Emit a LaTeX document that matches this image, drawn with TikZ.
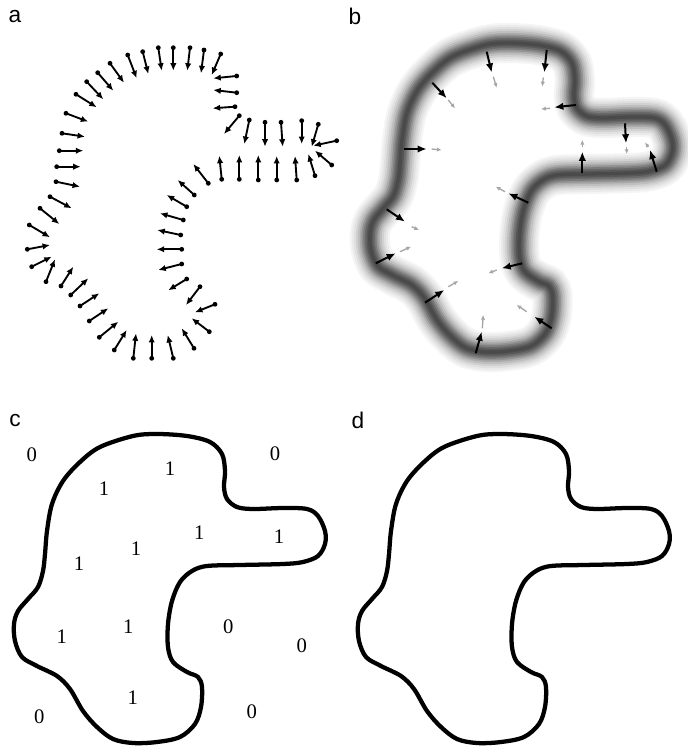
\documentclass[tikz,border=0pt]{standalone}
\usepackage{fontspec}
\setmainfont{Liberation Serif}
\newfontfamily\labfont{Liberation Sans}
\usetikzlibrary{arrows.meta}
\newcommand{\drawblob}[1]{\draw[#1] plot[smooth cycle, tension=0.55] coordinates {(157,60) (187,62) (210,68) (222,80) (225,97) (224,113) (227,125) (237,133) (253,135) (283,134) (307,135) (318,142) (325,157) (325,170) (318,182) (303,188) (283,190) (240,191) (207,192) (192,197) (180,208) (172,227) (168,250) (168,273) (173,288) (187,298) (198,303) (202,313) (201,333) (195,350) (180,363) (157,368) (133,369) (113,365) (97,353) (83,337) (70,315) (57,302) (37,292) (22,283) (15,267) (14,250) (18,237) (28,225) (38,213) (43,197) (45,180) (47,157) (52,130) (63,107) (80,88) (100,73) (133,62)};}
\begin{document}
\begin{tikzpicture}[x=0.75pt,y=-0.75pt,
  panellabel/.style={font=\labfont\fontsize{17}{20}\selectfont, inner sep=0pt},
  digit/.style={font=\fontsize{15.5}{18}\selectfont, inner sep=0pt},
  aarrow/.style={line width=1.4pt, -{Latex[length=5.6pt,width=4.8pt]}},
  barrow/.style={line width=1.5pt, -{Latex[length=6.8pt,width=5.6pt]}},
  garrow/.style={line width=1pt, black!35, -{Latex[length=3.5pt,width=3.2pt]}},
  contour/.style={line width=3.2pt, black}]
\useasboundingbox (0,0) rectangle (687,748);
\fill[white] (0,0) rectangle (687,748);

% panel labels
\node[panellabel] (la) at (15,17) {a};
\node[panellabel] (lb) at (355,16) {b};
\node[panellabel] (lc) at (15,421) {c};
\node[panellabel] (ld) at (358,420.5) {d};

% ---------- panel a ----------
\foreach \ax/\ay/\bx/\by in {
66/113.3/88.3/121.7, 76/94.3/96.7/107.3, 86.7/81.7/103.3/99.3, 97.7/72.7/113.3/90.7,
110/63.3/124/82.7, 127.7/55/136.7/78.3, 142.7/51.7/148.3/74, 158.3/47.7/161.7/70.7,
173.3/47.7/173.3/70.7, 190/47.7/187.3/70.7, 204/50/201/73.3, 220.7/54/211.7/75,
236.7/76/213.3/78.3, 236.7/92.7/213.3/90, 235/106.7/212.7/108.3, 239.3/115.7/224/134,
249.3/120/244.3/144, 265/122.3/265/146.7, 281/122.3/282.7/146.7, 301.7/120.7/301.7/144,
318.3/124.3/311.7/146.7, 336.7/140.7/313.3/145.7, 331.7/165/315/150.7, 315/175.7/308.3/154,
296.7/180/295/156, 276.7/180/276.7/156, 258.3/180/258.3/155, 239.3/179.3/239.3/155,
221.7/179.3/219.3/155.7, 208.3/183.3/193.3/164, 194.3/195/177.7/180, 186.7/206.7/166.7/195,
183.3/220/160/213.3, 180.7/235/157.3/230, 181.7/249.3/156.7/249.3, 181.7/264/158.3/270,
186.7/279/168.3/290.3, 200/286.7/186/305, 215/304.3/195/312.3, 209.3/331.7/191.7/318.3,
194/348.3/181.7/328.3, 173.3/358.3/167.7/335, 151.7/358.3/151.7/335, 133.3/358.3/136/333.3,
114.3/350/126.7/330, 99.3/337.3/118.3/321.7, 89.3/321/108.3/308.3, 80/306/99.3/293.3,
70.7/295/88.3/278.3, 61/286/73.3/266.7, 46/281.7/55/259.3, 31.7/266.7/51.7/256.7,
27.3/249.3/50/245, 29.3/225/50/237.3, 40/208.3/59.3/224, 50/196.7/71.7/208.3,
56/181.7/80/186.7, 56.7/166.7/80.7/166.7, 59.3/150.7/83.3/150.7, 62/133.3/85/136.7}{
  \fill (\ax,\ay) circle[radius=1.8pt];
  \draw[aarrow] (\ax,\ay) -- (\bx,\by);
}

% ---------- panel b ----------
\foreach \w/\c in {30/4, 27/8, 24/12, 21/18, 18/25, 15/33, 12.5/42, 10/51, 7.5/59, 5/66, 2.5/71}{
  \drawblob{line width=\w pt, black!\c, shift={(356.4,-17)}, xscale=0.971}
}
\foreach \ax/\ay/\bx/\by in {
486.7/51.7/491.7/72.5, 546.7/50/544.3/72.5, 432.3/82.7/446.7/98.3, 576/105/554.3/107.3,
404.3/149/426.7/149, 625/123.3/626/143.3, 582.3/173.3/582.3/151.7, 656.7/171.7/650/150,
528.3/202.7/508.3/193.3, 386.7/209.3/405/221.7, 375.7/263.3/395.7/253.3, 522.3/263.3/501.7/268.3,
425/302.7/444.3/290, 551.7/328.3/534.3/316.7, 475.7/353.3/481.7/331.7}{
  \draw[barrow] (\ax,\ay) -- (\bx,\by);
}
\foreach \ax/\ay/\bx/\by in {
493.3/76.7/496.7/87.8, 543.3/77.5/542.3/86.5, 448.3/100/455/108.3, 550/108.3/541/109,
431.7/149/441.7/150, 626.7/147/626.7/154, 582.3/147.5/582.3/140, 648.3/147/645/142.5,
505/191.7/495.7/186.7, 411.7/226.7/419/230, 400/251.7/411/246.7, 496.7/270/488.3/273.3,
448.3/286.7/458.3/281, 526.7/311.7/516.7/305, 482.3/328.3/483.3/315}{
  \draw[garrow] (\ax,\ay) -- (\bx,\by);
}

% ---------- panel c ----------
\drawblob{contour, shift={(0,374)}}
\foreach \px/\py/\t in {31.7/455/0, 170/469/1, 275/454/0, 104/489/1, 199.3/532.3/1,
  279/536.3/1, 136/549/1, 79/563.3/1, 128.3/626.7/1, 61.7/636.7/1, 228.3/626.7/0,
  301.7/645.7/0, 132.7/697.3/1, 39.3/716.7/0, 251.7/711.3/0}{
  \node[digit] at (\px,\py) {\t};
}

% ---------- panel d ----------
\drawblob{contour, shift={(344,374)}}
\end{tikzpicture}
\end{document}
